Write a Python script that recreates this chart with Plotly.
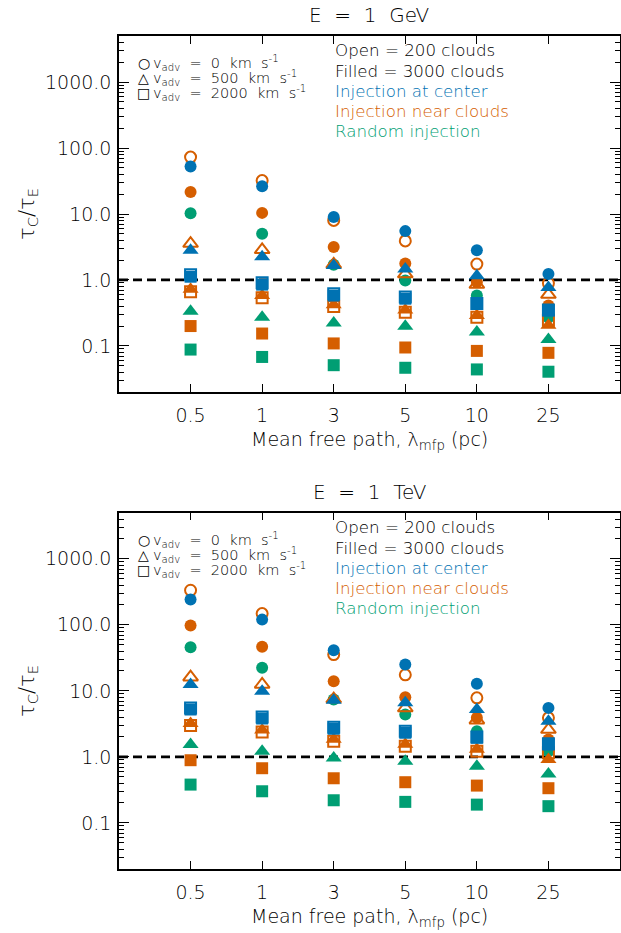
import plotly.graph_objects as go

# ---------------- data ----------------
mfp_labels = ["0.5", "1", "3", "5", "10", "25"]
mfp_pos = [1, 2, 3, 4, 5, 6]
ytick_vals = [0.1, 1, 10, 100, 1000]
ytick_text = ["0.1", "1.0", "10.0", "100.0", "1000.0"]

# E = 1 GeV  (tau_C / tau_E)
gev_center_v0 = [52.6, 26.3, 9.0, 5.5, 2.83, 1.23]
gev_center_v500 = [2.83, 2.24, 1.65, 1.46, 1.16, 0.77]
gev_center_v2000 = [1.12, 0.85, 0.58, 0.52, 0.435, 0.345]
gev_center_v2000_open = [1.2, 0.91, 0.62, 0.55, 0.44, 0.35]
gev_near_v0 = [21.6, 10.4, 3.17, 1.78, 0.93, 0.41]
gev_near_v500 = [0.72, 0.58, 0.42, 0.35, 0.29, 0.205]
gev_near_v2000 = [0.2, 0.154, 0.109, 0.0946, 0.084, 0.0785]
gev_near_v0_open = [73, 32.1, 8.0, 3.91, 1.74, 0.89]
gev_near_v500_open = [3.56, 2.86, 1.72, 1.23, 0.85, 0.60]
gev_near_v2000_open = [0.66, 0.536, 0.396, 0.325, 0.273, 0.244]
gev_random_v0 = [10.3, 5.03, 1.70, 0.98, 0.58, 0.27]
gev_random_v500 = [0.336, 0.273, 0.222, 0.198, 0.163, 0.125]
gev_random_v2000 = [0.088, 0.068, 0.051, 0.0466, 0.044, 0.0406]

# E = 1 TeV
tev_center_v0 = [242, 120, 41.2, 25.0, 12.8, 5.52]
tev_center_v500 = [12.5, 9.86, 7.2, 6.58, 5.2, 3.47]
tev_center_v2000 = [5.21, 3.8, 2.66, 2.31, 1.94, 1.54]
tev_center_v2000_open = [5.5, 4.0, 2.8, 2.45, 2.0, 1.58]
tev_near_v0 = [97.6, 46.4, 14.0, 8.0, 3.9, 1.83]
tev_near_v500 = [3.2, 2.55, 1.85, 1.55, 1.3, 0.91]
tev_near_v2000 = [0.89, 0.673, 0.474, 0.413, 0.367, 0.335]
tev_near_v0_open = [334, 148, 35.5, 17.5, 7.83, 3.9]
tev_near_v500_open = [16.1, 12.5, 7.5, 5.5, 3.6, 2.59]
tev_near_v2000_open = [2.98, 2.39, 1.72, 1.45, 1.22, 1.15]
tev_random_v0 = [45.8, 22.3, 7.38, 4.37, 2.44, 1.22]
tev_random_v500 = [1.54, 1.22, 0.965, 0.86, 0.72, 0.552]
tev_random_v2000 = [0.38, 0.301, 0.22, 0.208, 0.189, 0.179]

# ---------------- style ----------------
BLUE = "#0072B2"
ORANGE = "#D55E00"
GREEN = "#009E73"
FONT = "DejaVu Sans"
WEIGHT = 200

W, H = 621, 933
ML, MR, MT, MB = 119, 1, 36, 64
PW = W - ML - MR
PH = H - MT - MB


def px(x):
    return (x - ML) / PW


def py(y):
    return (H - MB - y) / PH


fig = go.Figure()


def add(vals, color, symbol, filled, xa, ya):
    if filled:
        marker = dict(symbol=symbol, color=color, size=12 if symbol != "triangle-up" else 14,
                      line=dict(width=0))
    else:
        marker = dict(symbol=symbol + "-open", color=color,
                      size=11 if symbol != "triangle-up" else 13,
                      line=dict(width=2, color=color))
    fig.add_trace(go.Scatter(x=mfp_pos, y=vals, mode="markers", marker=marker,
                             xaxis=xa, yaxis=ya, showlegend=False, hoverinfo="skip"))


panels = [
    ("x", "y", dict(
        center=[gev_center_v0, gev_center_v500, gev_center_v2000], center_open=[None, None, gev_center_v2000_open],
        near=[gev_near_v0, gev_near_v500, gev_near_v2000],
        near_open=[gev_near_v0_open, gev_near_v500_open, gev_near_v2000_open],
        random=[gev_random_v0, gev_random_v500, gev_random_v2000])),
    ("x2", "y2", dict(
        center=[tev_center_v0, tev_center_v500, tev_center_v2000], center_open=[None, None, tev_center_v2000_open],
        near=[tev_near_v0, tev_near_v500, tev_near_v2000],
        near_open=[tev_near_v0_open, tev_near_v500_open, tev_near_v2000_open],
        random=[tev_random_v0, tev_random_v500, tev_random_v2000])),
]
symbols = ["circle", "triangle-up", "square"]

for xa, ya, d in panels:
    fig.add_trace(go.Scatter(x=[0, 7], y=[1, 1], mode="lines",
                             line=dict(color="black", width=2.7, dash="9px,5px"),
                             xaxis=xa, yaxis=ya, showlegend=False, hoverinfo="skip"))
    for s, v in zip(symbols, d["random"]):
        add(v, GREEN, s, True, xa, ya)
    for s, v in zip(symbols, d["near_open"]):
        add(v, ORANGE, s, False, xa, ya)
    for s, v in zip(symbols, d["near"]):
        add(v, ORANGE, s, True, xa, ya)
    for s, v in zip(symbols, d["center_open"]):
        if v is not None:
            add(v, BLUE, s, False, xa, ya)
    for s, v in zip(symbols, d["center"]):
        add(v, BLUE, s, True, xa, ya)

minor_vals = [m * 10 ** e for e in range(-2, 4) for m in range(2, 10)]

tickfont = dict(family=FONT, size=19, color="black", weight=WEIGHT)
xaxis_style = dict(range=[0, 7], tickvals=mfp_pos, ticktext=mfp_labels, ticks="inside",
                   ticklen=8, tickwidth=1.2, tickcolor="black", showline=True, linecolor="black",
                   linewidth=1.5, mirror="allticks", showgrid=False, zeroline=False,
                   tickfont=tickfont, ticklabelstandoff=5, automargin=False)
yaxis_style = dict(type="log", range=[-1.69897, 3.69897], tickvals=ytick_vals, ticktext=ytick_text,
                   ticks="inside", ticklen=10, tickwidth=1.2, tickcolor="black", showline=True,
                   linecolor="black", linewidth=1.5, mirror="allticks", showgrid=False,
                   zeroline=False, tickfont=tickfont, ticklabelstandoff=2, automargin=False,
                   minor=dict(tickvals=minor_vals, ticks="inside", ticklen=5, tickwidth=1,
                              tickcolor="black", showgrid=False))

top_dom = [py(392), 1]
bot_dom = [0, py(512.7)]

fig.update_layout(
    width=W, height=H, margin=dict(l=ML, r=MR, t=MT, b=MB),
    paper_bgcolor="white", plot_bgcolor="white",
    xaxis=dict(xaxis_style, anchor="y"),
    yaxis=dict(yaxis_style, domain=top_dom, anchor="x"),
    xaxis2=dict(xaxis_style, anchor="y2"),
    yaxis2=dict(yaxis_style, domain=bot_dom, anchor="x2"),
)

ann = []


def text(x, y, s, size, color="black", xanchor="left", angle=0, weight=WEIGHT):
    ann.append(dict(x=px(x), y=py(y), xref="paper", yref="paper", text=s, showarrow=False,
                    xanchor=xanchor, yanchor="middle", textangle=angle,
                    font=dict(family=FONT, size=size, color=color, weight=weight)))


SP = "\u00a0\u00a0"
legend_speeds = ["0", "500", "2000"]
legend_marks = ["○", "△", "□"]

for off, title in [(0, "E = 1 GeV"), (477, "E = 1 TeV")]:
    text(369.5, 15 + off, title.replace(" ", SP), 20, xanchor="center")
    text(369.5, 440 + off, "Mean free path, λ<sub>mfp</sub> (pc)", 19, xanchor="center")
    text(28, 214 + off, "τ<sub>C</sub>/τ<sub>E</sub>", 21, xanchor="center", angle=-90)
    for i, (mk, sp) in enumerate(zip(legend_marks, legend_speeds)):
        yy = 63 + 15 * i + off
        text(143.5, yy, mk, 14, xanchor="center", weight=400)
        text(151, yy, "v<sub>adv</sub>" + SP + "=" + SP + sp + SP + "km" + SP + "s<sup>-1</sup>", 14.5)
    text(333, 50 + off, "Open = 200 clouds", 16.7)
    text(333, 71 + off, "Filled = 3000 clouds", 16.7)
    text(333, 91 + off, "Injection at center", 16.7, BLUE)
    text(333, 111 + off, "Injection near clouds", 16.7, ORANGE)
    text(333, 131 + off, "Random injection", 16.7, GREEN)

fig.update_layout(annotations=ann)
fig.write_html("out.html", config={"displayModeBar": False},
               post_script="document.body.style.margin='0';document.body.style.overflow='hidden';")
